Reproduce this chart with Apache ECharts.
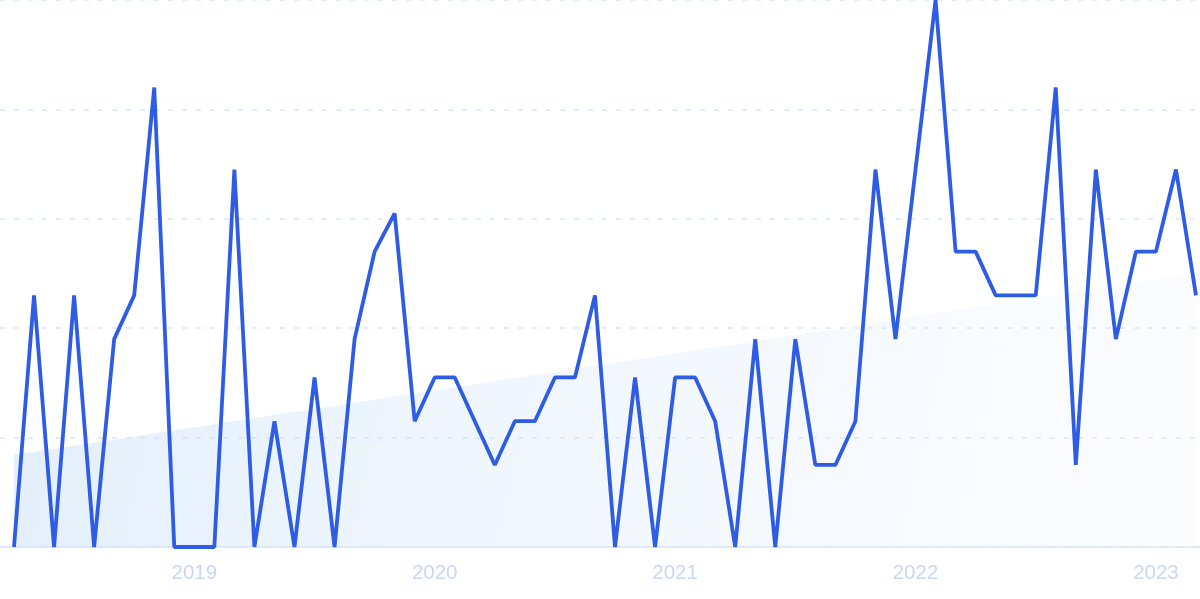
<!DOCTYPE html>
<html>
<head>
<meta charset="utf-8">
<script src="https://cdn.jsdelivr.net/npm/echarts@6/dist/echarts.min.js"></script>
<style>
  html, body { margin: 0; padding: 0; background: #ffffff; }
  #chart { width: 1200px; height: 599px; }
</style>
</head>
<body>
<div id="chart"></div>
<script>
// Monthly categories, Apr 2018 – Mar 2023
var months = [
  "2018-04","2018-05","2018-06","2018-07","2018-08","2018-09","2018-10","2018-11","2018-12",
  "2019-01","2019-02","2019-03","2019-04","2019-05","2019-06","2019-07","2019-08","2019-09","2019-10","2019-11","2019-12",
  "2020-01","2020-02","2020-03","2020-04","2020-05","2020-06","2020-07","2020-08","2020-09","2020-10","2020-11","2020-12",
  "2021-01","2021-02","2021-03","2021-04","2021-05","2021-06","2021-07","2021-08","2021-09","2021-10","2021-11","2021-12",
  "2022-01","2022-02","2022-03","2022-04","2022-05","2022-06","2022-07","2022-08","2022-09","2022-10","2022-11","2022-12",
  "2023-01","2023-02","2023-03"
];

// Interest values (0–100)
var interest = [
  0, 46, 0, 46, 0, 38, 46, 84, 0,
  0, 0, 69, 0, 23, 0, 31, 0, 38, 54, 61, 23,
  31, 31, 23, 15, 23, 23, 31, 31, 46, 0, 31, 0,
  31, 31, 23, 0, 38, 0, 38, 15, 15, 23, 69, 38,
  69, 100, 54, 54, 46, 46, 46, 84, 15, 69, 38, 54,
  54, 69, 46
];

// Trend line end values (first and last month)
var trendIndex = [0, 59];
var trendValues = [16.8, 50.0];

// Y axis range
var yMin = 0, yMax = 100, yInterval = 20;

var chart = echarts.init(document.getElementById('chart'), null, { renderer: 'canvas' });

var option = {
  animation: false,
  backgroundColor: '#ffffff',
  grid: [
    // background grid: full-width dashed lines and base line
    { left: 0, right: 0, top: 0, bottom: 52, containLabel: false },
    // data grid
    { left: 14, right: 4, top: 0, bottom: 52, containLabel: false }
  ],
  xAxis: [
    {
      gridIndex: 0,
      type: 'value',
      min: 0, max: 1,
      axisLine: { show: true, onZero: false, lineStyle: { color: '#d9e5f8', width: 1.5 } },
      axisTick: { show: false },
      axisLabel: { show: false },
      splitLine: { show: false }
    },
    {
      gridIndex: 1,
      type: 'category',
      data: months,
      boundaryGap: false,
      axisLine: { show: false },
      axisTick: { show: false },
      splitLine: { show: false },
      axisLabel: {
        interval: function (index, value) { return value.slice(5) === '01'; },
        formatter: function (value) { return value.slice(0, 4); },
        color: '#c9d7f5',
        fontSize: 20.5,
        fontFamily: 'Liberation Sans, Arial, sans-serif',
        margin: 16
      }
    }
  ],
  yAxis: [
    {
      gridIndex: 0,
      type: 'value',
      min: yMin, max: yMax, interval: yInterval,
      axisLine: { show: false },
      axisTick: { show: false },
      axisLabel: { show: false },
      splitLine: { show: true, lineStyle: { color: '#d9e5fb', type: [5, 9], width: 1.5 } }
    },
    {
      gridIndex: 1,
      type: 'value',
      min: yMin, max: yMax, interval: yInterval,
      axisLine: { show: false },
      axisTick: { show: false },
      axisLabel: { show: false },
      splitLine: { show: false }
    }
  ],
  series: [
    {
      name: 'trend',
      type: 'line',
      xAxisIndex: 1, yAxisIndex: 1,
      silent: true,
      data: trendIndex.map(function (ix, k) { return [ix, trendValues[k]]; }),
      showSymbol: false,
      symbol: 'none',
      lineStyle: { width: 0, opacity: 0 },
      areaStyle: {
        origin: 'start',
        color: new echarts.graphic.LinearGradient(0, 0, 1, 1, [
          { offset: 0, color: 'rgba(196,220,247,0.68)' },
          { offset: 1, color: 'rgba(236,244,254,0.3)' }
        ])
      },
      z: 1
    },
    {
      name: 'interest',
      type: 'line',
      xAxisIndex: 1, yAxisIndex: 1,
      data: interest,
      showSymbol: false,
      symbol: 'none',
      lineStyle: { color: '#2e5ce5', width: 3.8, join: 'bevel' },
      z: 3
    }
  ]
};

chart.setOption(option);
</script>
</body>
</html>
